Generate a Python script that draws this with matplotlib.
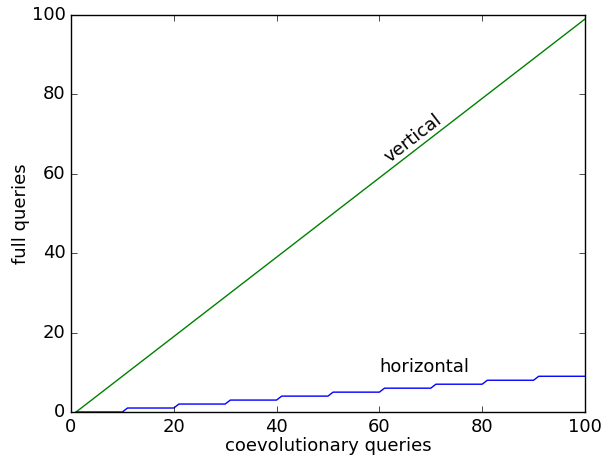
import matplotlib
matplotlib.use('Agg')
import matplotlib.pyplot as plt

# full queries for vertical search: one per coevolutionary query
vert_x = [1, 100]
vert_y = [0, 99]

# horizontal search: steps up every 10 queries
horiz_x = [1, 10, 11, 20, 21, 30, 31, 40, 41, 50, 51, 60, 61, 70, 71, 80, 81, 90, 91, 100]
horiz_y = [0, 0, 1, 1, 2, 2, 3, 3, 4, 4, 5, 5, 6, 6, 7, 7, 8, 8, 9, 9]

plt.style.use('classic')
plt.rcParams['font.size'] = 13

fig = plt.figure(figsize=(6.04, 4.57), dpi=100)
fig.subplots_adjust(left=0.1175, right=0.9685, bottom=0.0985, top=0.967)
ax = fig.add_subplot(111)

ax.plot(vert_x, vert_y, color='g', lw=1.0)
ax.plot(horiz_x, horiz_y, color='b', lw=1.0)

ax.text(60.3, 63, 'vertical', rotation=37.7, fontsize=13)
ax.text(60, 10, 'horizontal', fontsize=13)

ax.set_xlim(0, 100)
ax.set_ylim(0, 100)
ax.set_xlabel('coevolutionary queries', fontsize=13, labelpad=1)
ax.set_ylabel('full queries', fontsize=13, labelpad=1)

fig.savefig('out.png', dpi=100)
